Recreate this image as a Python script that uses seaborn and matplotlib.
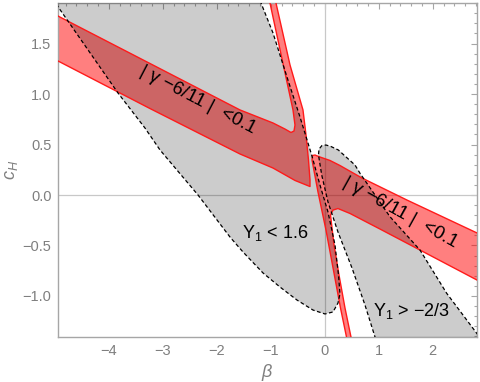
import numpy as np
import pandas as pd
import matplotlib
matplotlib.use("Agg")
import matplotlib.pyplot as plt
import seaborn as sns
from matplotlib.ticker import MultipleLocator

# ---- data (beta, c_H) ----
# Region Y1 < 1.6 (closed boundary)
y1a_beta = [-5.163, -4.950, -3.830, -3.330, -3.052, -2.348, -1.756, -1.515, -1.144, -0.830,
            -0.515, -0.219, 0.004, 0.152, 0.244, 0.281, 0.254, 0.189, 0.059, -0.089,
            -0.243, -0.459, -0.700, -0.959, -1.181, -1.237]
y1a_cH = [2.030, 1.871, 1.010, 0.663, 0.446, 0.000, -0.416, -0.564, -0.772, -0.911,
          -1.040, -1.139, -1.178, -1.158, -1.070, -0.980, -0.792, -0.495, -0.168, 0.099,
          0.396, 0.772, 1.168, 1.604, 1.901, 2.030]
# Region Y1 > -2/3
y1b_beta = [0.967, 0.930, 0.744, 0.504, 0.244, 0.059, -0.057, -0.117, -0.107, -0.052,
            0.022, 0.115, 0.250, 0.559, 0.652, 1.207, 1.763, 2.257, 2.813, 2.911]
y1b_cH = [-1.485, -1.406, -1.089, -0.723, -0.366, -0.069, 0.198, 0.396, 0.455, 0.490,
          0.495, 0.480, 0.446, 0.297, 0.215, -0.215, -0.545, -0.973, -1.369, -1.436]
# |gamma - 6/11| < 0.1, upper-left branch
g1_beta = [-5.181, -4.941, -3.237, -1.570, -0.959, -0.737, -0.626, -0.570, -0.552, -0.589,
           -1.015, -1.070, -0.956, -0.904, -0.644, -0.404, -0.348, -0.302, -0.274, -0.274,
           -0.367, -0.552, -0.959, -1.570, -3.237, -4.941, -5.181]
g1_cH = [1.839, 1.772, 1.302, 0.842, 0.713, 0.653, 0.619, 0.634, 0.693, 0.842,
         1.901, 2.030, 2.030, 1.901, 1.287, 0.842, 0.594, 0.347, 0.149, 0.084,
         0.104, 0.144, 0.267, 0.406, 0.856, 1.327, 1.393]
# |gamma - 6/11| < 0.1, lower-right branch
g2_beta = [0.420, 0.402, 0.291, 0.022, -0.126, -0.237, -0.228, -0.181, -0.089, 0.096,
           0.281, 0.689, 1.522, 2.819, 3.059, 3.059, 2.819, 1.763, 1.022, 0.467,
           0.244, 0.152, 0.106, 0.170, 0.263, 0.374, 0.485, 0.504]
g2_cH = [-1.485, -1.406, -1.119, -0.347, 0.030, 0.347, 0.391, 0.396, 0.376, 0.342,
         0.292, 0.168, -0.050, -0.376, -0.439, -0.911, -0.842, -0.545, -0.337, -0.183,
         -0.134, -0.149, -0.198, -0.495, -0.792, -1.119, -1.406, -1.485]

x_ticks = [-4, -3, -2, -1, 0, 1, 2]
y_ticks = [-1.0, -0.5, 0.0, 0.5, 1.0, 1.5]
x_range = (-4.935, 2.813)
y_range = (-1.403, 1.904)

label_gamma = "| γ −6/11 |  <0.1"
label_y1a = "Y$_1$ < 1.6"
label_y1b = "Y$_1$ > −2/3"

# ---- style ----
sns.set_theme(style="white")
plt.rcParams['font.family'] = ['Liberation Sans', 'DejaVu Sans']
plt.rcParams['mathtext.fontset'] = 'custom'
plt.rcParams['mathtext.rm'] = 'Liberation Sans'
plt.rcParams['mathtext.it'] = 'Liberation Sans:italic'

fig = plt.figure(figsize=(4.8, 3.82), dpi=100)
ax = fig.add_axes([0.1215, 0.1186, 0.8716, 0.8743])

frame_col = '#a6a6a6'
tick_col = '#7f7f7f'

# zero grid lines
ax.axvline(0, color='#c8c8c8', lw=0.9, zorder=1)
ax.axhline(0, color='#c8c8c8', lw=0.9, zorder=1)

# red regions
for bx, cy in [(g1_beta, g1_cH), (g2_beta, g2_cH)]:
    ax.fill(bx, cy, facecolor=(1, 0, 0, 0.5), edgecolor='none', zorder=2)

# gray regions (black with alpha -> darkens red underneath)
for bx, cy in [(y1a_beta, y1a_cH), (y1b_beta, y1b_cH)]:
    ax.fill(bx, cy, facecolor=(0, 0, 0, 0.2), edgecolor='none', zorder=3)

# red edges
for bx, cy in [(g1_beta, g1_cH), (g2_beta, g2_cH)]:
    ax.plot(bx + [bx[0]], cy + [cy[0]], color='#ff1a1a', lw=1.0, zorder=4)

# dashed boundaries
for bx, cy in [(y1a_beta, y1a_cH), (y1b_beta, y1b_cH)]:
    ax.plot(bx, cy, color='black', lw=0.9, ls=(0, (3, 2)), zorder=5)

ax.set_xlim(*x_range)
ax.set_ylim(*y_range)

# labels inside
ax.text(-2.36, 0.94, label_gamma, rotation=-27.5, rotation_mode='anchor',
        ha='center', va='center', fontsize=13.5, color='black', zorder=6)
ax.text(1.40, -0.17, label_gamma, rotation=-29, rotation_mode='anchor',
        ha='center', va='center', fontsize=13.5, color='black', zorder=6)
ax.text(-0.92, -0.376, label_y1a, ha='center', va='center', fontsize=13,
        color='black', zorder=6)
ax.text(1.606, -1.149, label_y1b, ha='center', va='center', fontsize=13,
        color='black', zorder=6)

# ticks
ax.set_xticks(x_ticks)
ax.set_yticks(y_ticks)
ax.set_xticklabels([("−%d" % -t) if t < 0 else "%d" % t for t in x_ticks])
ax.set_yticklabels([("−%.1f" % -t) if t < 0 else "%.1f" % t for t in y_ticks])
ax.xaxis.set_minor_locator(MultipleLocator(0.2))
ax.yaxis.set_minor_locator(MultipleLocator(0.1))
ax.tick_params(which='both', direction='in', top=True, right=True,
               color=frame_col, labelcolor=tick_col, labelsize=10.5, width=0.8)
ax.tick_params(which='major', length=4.5, pad=5)
ax.tick_params(which='minor', length=2.5)
for sp in ax.spines.values():
    sp.set_color(frame_col)
    sp.set_linewidth(1.0)

ax.set_xlabel(r"$\beta$", color=tick_col, fontsize=13, labelpad=3)
ax.set_ylabel(r"$c_H$", color=tick_col, fontsize=13, labelpad=2)

fig.savefig("out.png", dpi=100)
